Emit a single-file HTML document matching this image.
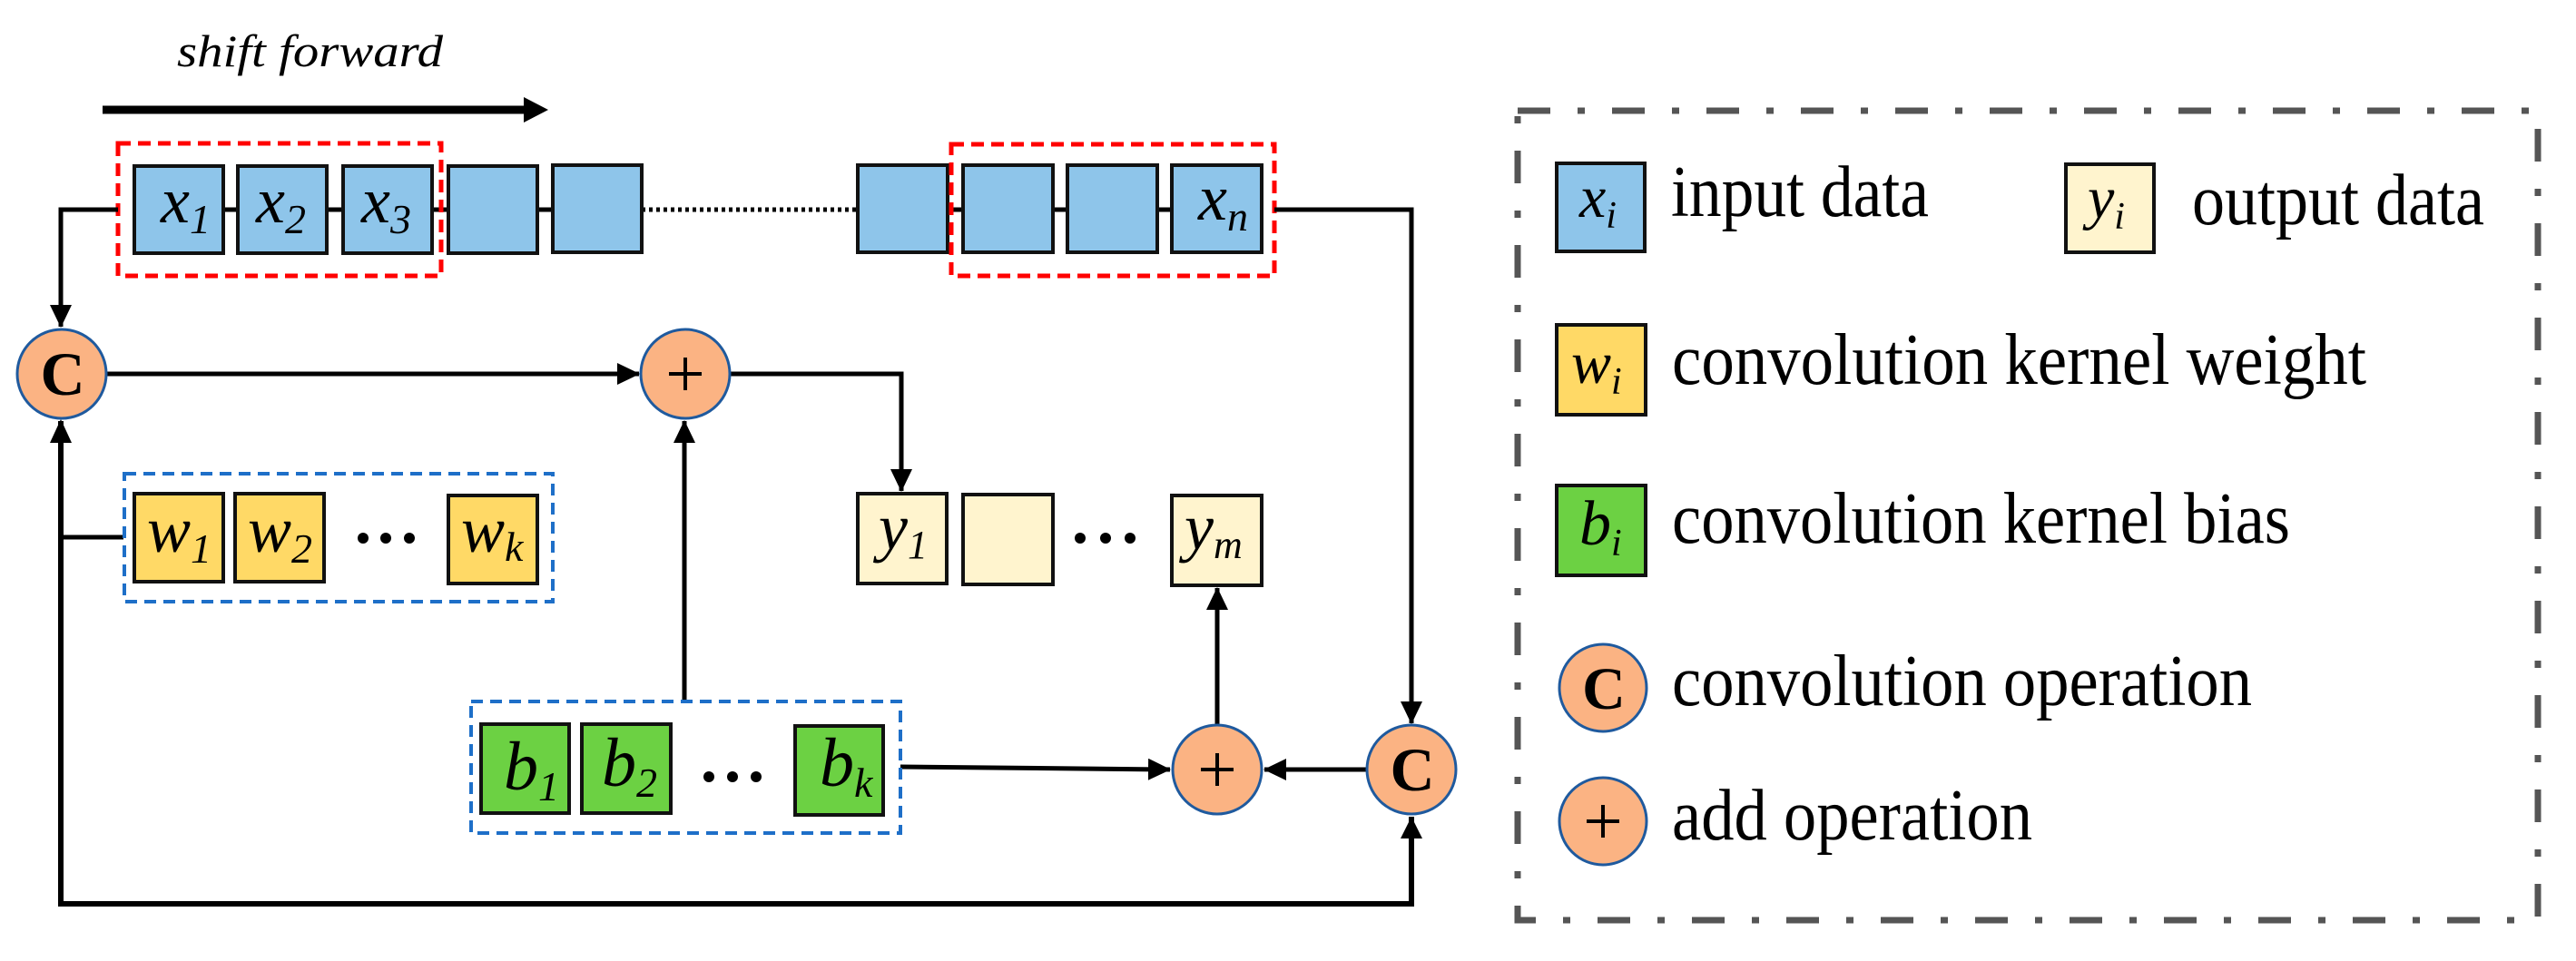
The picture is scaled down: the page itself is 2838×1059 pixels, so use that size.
<!DOCTYPE html>
<html><head><meta charset="utf-8"><style>
html,body{margin:0;padding:0;background:#fff}
svg{display:block}
svg text{font-family:"Liberation Serif","DejaVu Serif","Times New Roman",serif !important}
.it{font-style:italic}
</style></head><body>
<svg width="2838" height="1059" viewBox="0 0 2838 1059" xmlns="http://www.w3.org/2000/svg" font-family="'Liberation Serif', 'DejaVu Serif', serif">
<defs>
<marker id="ah" markerWidth="26" markerHeight="24" refX="24" refY="12" orient="auto" markerUnits="userSpaceOnUse">
<path d="M0,0 L25,12 L0,24 Z" fill="#000"/>
</marker>
</defs>

<text x="195" y="73" class="it" font-family="Liberation Serif, serif" font-size="50" textLength="293" lengthAdjust="spacingAndGlyphs">shift forward</text>
<line x1="113" y1="121" x2="580" y2="121" stroke="#000" stroke-width="9"/>
<path d="M577,107 L604,121 L577,135 Z" fill="#000"/>

<line x1="246" y1="231" x2="945" y2="231" stroke="#000" stroke-width="5"/>
<line x1="707" y1="231" x2="945" y2="231" stroke="#fff" stroke-width="7"/>
<line x1="707" y1="231" x2="945" y2="231" stroke="#000" stroke-width="5" stroke-dasharray="4,4"/>
<line x1="1044" y1="231" x2="1291" y2="231" stroke="#000" stroke-width="5"/>

<g fill="#8EC5EA" stroke="#111" stroke-width="4">
<rect x="148" y="183" width="98" height="96"/>
<rect x="262" y="183" width="98" height="96"/>
<rect x="378" y="183" width="98" height="96"/>
<rect x="494" y="183" width="98" height="96"/>
<rect x="609" y="182" width="98" height="96"/>
<rect x="945" y="182" width="99" height="96"/>
<rect x="1061" y="182" width="99" height="96"/>
<rect x="1176" y="182" width="99" height="96"/>
<rect x="1291" y="182" width="99" height="96"/>
</g>
<g class="it" font-size="72" font-family="Liberation Serif, serif">
<text x="177" y="245">x<tspan font-size="46" dy="12">1</tspan></text>
<text x="282" y="245">x<tspan font-size="46" dy="12">2</tspan></text>
<text x="398" y="245">x<tspan font-size="46" dy="12">3</tspan></text>
<text x="1320" y="242">x<tspan font-size="46" dy="12">n</tspan></text>
</g>

<rect x="130" y="158" width="356" height="146" fill="none" stroke="#FF0000" stroke-width="5" stroke-dasharray="14,8"/>
<rect x="1048" y="159" width="356" height="145" fill="none" stroke="#FF0000" stroke-width="5" stroke-dasharray="14,8"/>

<g stroke="#000" stroke-width="5" fill="none">
<polyline points="130,231 67,231 67,360" marker-end="url(#ah)"/>
<line x1="117" y1="412" x2="704" y2="412" marker-end="url(#ah)"/>
<polyline points="803,412 993,412 993,541" marker-end="url(#ah)"/>
<line x1="754" y1="773" x2="754" y2="464" marker-end="url(#ah)"/>
<polyline points="136,592 67,592"/>
<polyline points="67,464 67,996 1555,996 1555,900" stroke-width="6"/>
<polyline points="1404,231 1555,231 1555,797" marker-end="url(#ah)"/>
<line x1="992" y1="845" x2="1289" y2="848" marker-end="url(#ah)"/>
<line x1="1506" y1="848" x2="1393" y2="848" marker-end="url(#ah)"/>
<line x1="1341" y1="800" x2="1341" y2="648" marker-end="url(#ah)"/>
</g>
<path d="M1543,924 L1555,900 L1567,924 Z" fill="#000"/>
<path d="M55,488 L67,462 L79,488 Z" fill="#000"/>

<g fill="#FBB383" stroke="#1F5A9E" stroke-width="3">
<circle cx="68" cy="412" r="49"/>
<circle cx="755" cy="412" r="49"/>
<circle cx="1341" cy="848" r="49"/>
<circle cx="1555" cy="848" r="49"/>
</g>
<g font-size="68" font-weight="bold" text-anchor="middle" font-family="Liberation Serif, serif">
<text x="69" y="435">C</text>
<text x="1556" y="871">C</text>
</g>
<g stroke="#000" stroke-width="4">
<line x1="737" y1="412" x2="773" y2="412"/><line x1="755" y1="394" x2="755" y2="430"/>
<line x1="1323" y1="848" x2="1359" y2="848"/><line x1="1341" y1="830" x2="1341" y2="866"/>
<line x1="1748" y1="905" x2="1784" y2="905"/><line x1="1766" y1="887" x2="1766" y2="923"/>
</g>

<g fill="#FFD966" stroke="#111" stroke-width="4">
<rect x="148" y="544" width="98" height="97"/>
<rect x="259" y="544" width="98" height="97"/>
<rect x="494" y="546" width="98" height="97"/>
</g>
<g class="it" font-size="72" font-family="Liberation Serif, serif">
<text x="162" y="608">w<tspan font-size="46" dy="12">1</tspan></text>
<text x="273" y="608">w<tspan font-size="46" dy="12">2</tspan></text>
<text x="508" y="608">w<tspan font-size="46" dy="10">k</tspan></text>
</g>
<g fill="#000"><circle cx="400" cy="593" r="6"/><circle cx="425" cy="593" r="6"/><circle cx="451" cy="593" r="6"/></g>
<rect x="137" y="522" width="472" height="141" fill="none" stroke="#1E6FC8" stroke-width="4" stroke-dasharray="13,8"/>

<g fill="#FFF4CE" stroke="#111" stroke-width="4">
<rect x="945" y="544" width="98" height="99"/>
<rect x="1061" y="545" width="99" height="99"/>
<rect x="1291" y="546" width="99" height="99"/>
</g>
<g class="it" font-size="72" font-family="Liberation Serif, serif">
<text x="968" y="605">y<tspan font-size="44" dy="10">1</tspan></text>
<text x="1305" y="605">y<tspan font-size="44" dy="10">m</tspan></text>
</g>
<g fill="#000"><circle cx="1190" cy="593" r="6"/><circle cx="1218" cy="593" r="6"/><circle cx="1245" cy="593" r="6"/></g>

<g fill="#6CD143" stroke="#111" stroke-width="4">
<rect x="530" y="798" width="97" height="98"/>
<rect x="641" y="798" width="98" height="98"/>
<rect x="876" y="800" width="97" height="98"/>
</g>
<g class="it" font-size="76" font-family="Liberation Serif, serif">
<text x="555" y="870">b<tspan font-size="46" dy="12">1</tspan></text>
<text x="663" y="866">b<tspan font-size="46" dy="12">2</tspan></text>
<text x="903" y="866">b<tspan font-size="46" dy="12">k</tspan></text>
</g>
<g fill="#000"><circle cx="781" cy="856" r="6"/><circle cx="807" cy="856" r="6"/><circle cx="833" cy="856" r="6"/></g>
<rect x="519" y="773" width="473" height="145" fill="none" stroke="#1E6FC8" stroke-width="4" stroke-dasharray="13,8"/>

<rect x="1672" y="122" width="1124" height="892" fill="none" stroke="#555" stroke-width="7" stroke-dasharray="36,30,8,30"/>
<rect x="1715" y="180" width="97" height="97" fill="#8EC5EA" stroke="#111" stroke-width="4"/>
<rect x="2276" y="181" width="97" height="97" fill="#FFF4CE" stroke="#111" stroke-width="4"/>
<rect x="1715" y="358" width="98" height="99" fill="#FFD966" stroke="#111" stroke-width="4"/>
<rect x="1715" y="535" width="98" height="99" fill="#6CD143" stroke="#111" stroke-width="4"/>
<g class="it" font-family="Liberation Serif, serif">
<text x="1740" y="239" font-size="66">x<tspan font-size="42" dy="12">i</tspan></text>
<text x="2300" y="240" font-size="66">y<tspan font-size="42" dy="12">i</tspan></text>
<text x="1731" y="422" font-size="66">w<tspan font-size="42" dy="12">i</tspan></text>
<text x="1740" y="600" font-size="70">b<tspan font-size="42" dy="12">i</tspan></text>
</g>
<circle cx="1766" cy="758" r="48" fill="#FBB383" stroke="#1F5A9E" stroke-width="3"/>
<text x="1767" y="781" font-size="66" font-weight="bold" text-anchor="middle" font-family="Liberation Serif, serif">C</text>
<circle cx="1766" cy="905" r="48" fill="#FBB383" stroke="#1F5A9E" stroke-width="3"/>
<g stroke="#000" stroke-width="4">
<line x1="1748" y1="905" x2="1784" y2="905"/><line x1="1766" y1="887" x2="1766" y2="923"/>
</g>

<g font-size="80" font-family="Liberation Serif, serif">
<text x="1841" y="238" textLength="284" lengthAdjust="spacingAndGlyphs">input data</text>
<text x="2415" y="247" textLength="322" lengthAdjust="spacingAndGlyphs">output data</text>
<text x="1842" y="423" textLength="765" lengthAdjust="spacingAndGlyphs">convolution kernel weight</text>
<text x="1842" y="598" textLength="681" lengthAdjust="spacingAndGlyphs">convolution kernel bias</text>
<text x="1842" y="777" textLength="639" lengthAdjust="spacingAndGlyphs">convolution operation</text>
<text x="1842" y="925" textLength="397" lengthAdjust="spacingAndGlyphs">add operation</text>
</g>
</svg>
</body></html>
